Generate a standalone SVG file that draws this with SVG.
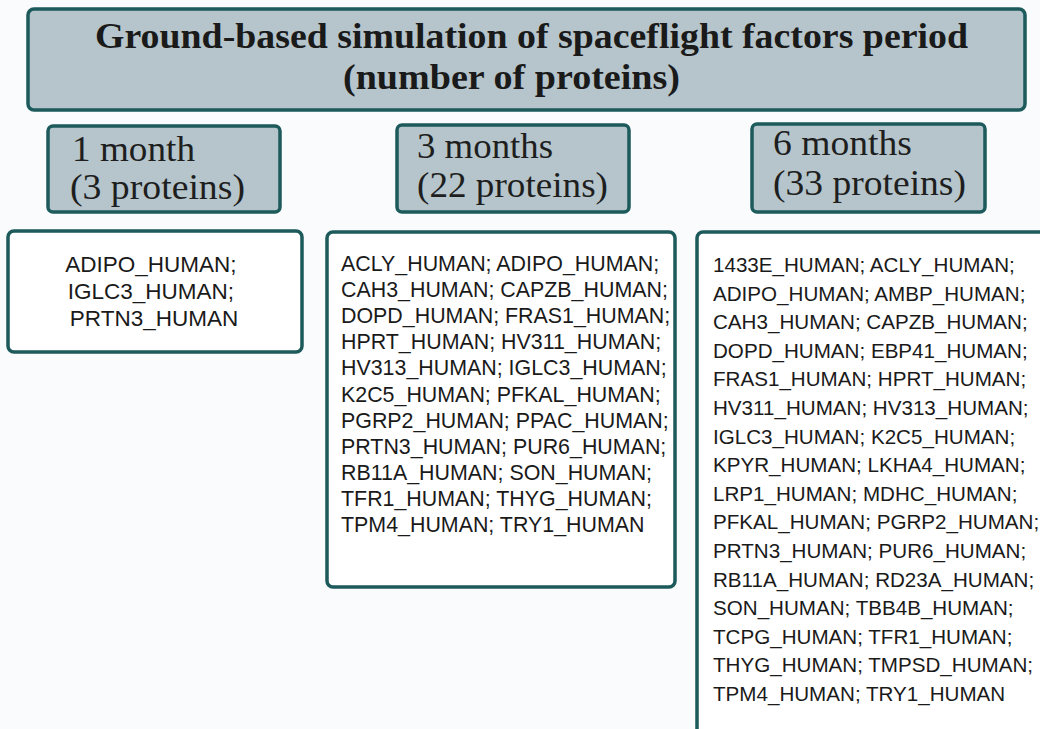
<svg xmlns="http://www.w3.org/2000/svg" width="1040" height="729" viewBox="0 0 1040 729">
<style>
.hdr{fill:#b5c5cb;stroke:#1d5a5b;stroke-width:3.5}
.lst{fill:#ffffff;stroke:#1d5a5b;stroke-width:3.5}
.ttl{font-family:"Liberation Serif",serif;font-weight:bold;font-size:35px;fill:#1a1a1a}
.mon{font-family:"Liberation Serif",serif;font-size:36px;fill:#1e1e1e}
.pr{font-family:"Liberation Sans",Arial,sans-serif;fill:#1a1a1a}
</style>
<rect width="1040" height="729" fill="#fafbfc"/>
<g id="title">
<rect class="hdr" x="28" y="9" width="997" height="101" rx="6"/>
<text class="ttl" x="95" y="48" textLength="873" lengthAdjust="spacingAndGlyphs">Ground-based simulation of spaceflight factors period</text>
<text class="ttl" x="343" y="89" textLength="337" lengthAdjust="spacingAndGlyphs">(number of proteins)</text>
</g>
<g id="m1">
<rect class="hdr" x="48" y="126" width="232" height="86" rx="5"/>
<text class="mon" x="72" y="161" textLength="123" lengthAdjust="spacingAndGlyphs">1 month</text>
<text class="mon" x="70" y="199" textLength="175" lengthAdjust="spacingAndGlyphs">(3 proteins)</text>
</g>
<g id="m3">
<rect class="hdr" x="397" y="125" width="232" height="87" rx="5"/>
<text class="mon" x="417" y="158" textLength="136" lengthAdjust="spacingAndGlyphs">3 months</text>
<text class="mon" x="417" y="197" textLength="191" lengthAdjust="spacingAndGlyphs">(22 proteins)</text>
</g>
<g id="m6">
<rect class="hdr" x="752" y="124" width="233" height="88" rx="5"/>
<text class="mon" x="773" y="155" textLength="139" lengthAdjust="spacingAndGlyphs">6 months</text>
<text class="mon" x="773" y="195" textLength="193" lengthAdjust="spacingAndGlyphs">(33 proteins)</text>
</g>
<g id="list1">
<rect class="lst" x="8" y="231" width="294" height="121" rx="6"/>
<text class="pr" font-size="22.5" text-anchor="middle">
<tspan x="154" y="272">ADIPO_HUMAN;</tspan>
<tspan x="154" y="299">IGLC3_HUMAN;</tspan>
<tspan x="154" y="326">PRTN3_HUMAN</tspan>
</text>
</g>
<g id="list3">
<rect class="lst" x="327" y="232" width="348" height="355" rx="6"/>
<text class="pr" font-size="21.4">
<tspan x="341" y="271">ACLY_HUMAN; ADIPO_HUMAN;</tspan>
<tspan x="341" y="297.1">CAH3_HUMAN; CAPZB_HUMAN;</tspan>
<tspan x="341" y="323.2">DOPD_HUMAN; FRAS1_HUMAN;</tspan>
<tspan x="341" y="349.3">HPRT_HUMAN; HV311_HUMAN;</tspan>
<tspan x="341" y="375.4">HV313_HUMAN; IGLC3_HUMAN;</tspan>
<tspan x="341" y="401.5">K2C5_HUMAN; PFKAL_HUMAN;</tspan>
<tspan x="341" y="427.6">PGRP2_HUMAN; PPAC_HUMAN;</tspan>
<tspan x="341" y="453.7">PRTN3_HUMAN; PUR6_HUMAN;</tspan>
<tspan x="341" y="479.8">RB11A_HUMAN; SON_HUMAN;</tspan>
<tspan x="341" y="505.9">TFR1_HUMAN; THYG_HUMAN;</tspan>
<tspan x="341" y="532">TPM4_HUMAN; TRY1_HUMAN</tspan>
</text>
</g>
<g id="list6">
<rect class="lst" x="697" y="232" width="380" height="540" rx="6"/>
<text class="pr" font-size="20.6">
<tspan x="713" y="272">1433E_HUMAN; ACLY_HUMAN;</tspan>
<tspan x="713" y="300.6">ADIPO_HUMAN; AMBP_HUMAN;</tspan>
<tspan x="713" y="329.2">CAH3_HUMAN; CAPZB_HUMAN;</tspan>
<tspan x="713" y="357.8">DOPD_HUMAN; EBP41_HUMAN;</tspan>
<tspan x="713" y="386.4">FRAS1_HUMAN; HPRT_HUMAN;</tspan>
<tspan x="713" y="415">HV311_HUMAN; HV313_HUMAN;</tspan>
<tspan x="713" y="443.6">IGLC3_HUMAN; K2C5_HUMAN;</tspan>
<tspan x="713" y="472.2">KPYR_HUMAN; LKHA4_HUMAN;</tspan>
<tspan x="713" y="500.8">LRP1_HUMAN; MDHC_HUMAN;</tspan>
<tspan x="713" y="529.4">PFKAL_HUMAN; PGRP2_HUMAN;</tspan>
<tspan x="713" y="558">PRTN3_HUMAN; PUR6_HUMAN;</tspan>
<tspan x="713" y="586.6">RB11A_HUMAN; RD23A_HUMAN;</tspan>
<tspan x="713" y="615.2">SON_HUMAN; TBB4B_HUMAN;</tspan>
<tspan x="713" y="643.8">TCPG_HUMAN; TFR1_HUMAN;</tspan>
<tspan x="713" y="672.4">THYG_HUMAN; TMPSD_HUMAN;</tspan>
<tspan x="713" y="701">TPM4_HUMAN; TRY1_HUMAN</tspan>
</text>
</g>
</svg>
